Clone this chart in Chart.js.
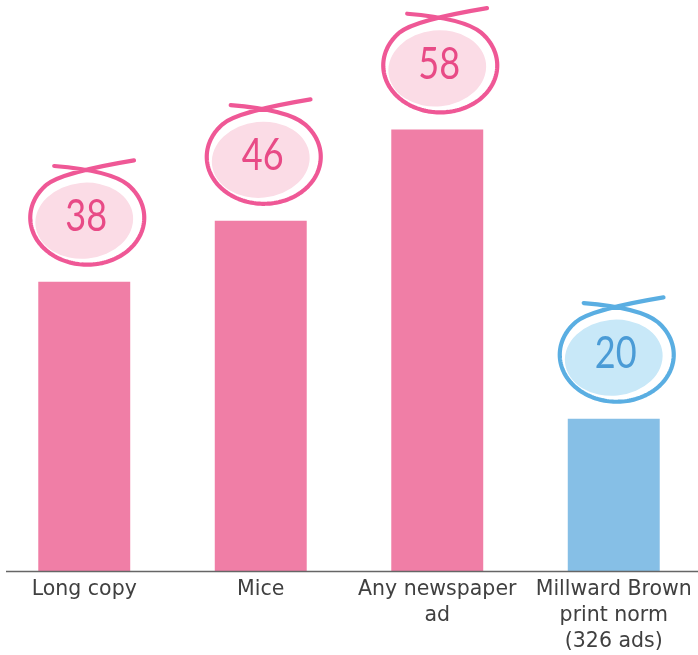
<!DOCTYPE html>
<html>
<head>
<meta charset="utf-8">
<script src="https://cdn.jsdelivr.net/npm/chart.js@4"></script>
<style>
  html, body { margin: 0; padding: 0; background: #fff; overflow: hidden; }
  #wrap { position: absolute; left: -4px; top: 0; width: 706px; height: 655px; }
</style>
</head>
<body>
<div id="wrap"><canvas id="chart"></canvas></div>
<script>
// --- Data ---
const categories = [
  ['Long copy'],
  ['Mice'],
  ['Any newspaper', 'ad'],
  ['Millward Brown', 'print norm', '(326 ads)']
];
const values = [38, 46, 58, 20];

// --- Colours ---
const barColors = ['#f07ea6', '#f07ea6', '#f07ea6', '#86bfe6'];
const ringColors = ['#ef5896', '#ef5896', '#ef5896', '#5aaee2'];
const ringFills = ['#fbdce6', '#fbdce6', '#fbdce6', '#c8e8f8'];
const numColors = ['#e84a86', '#e84a86', '#e84a86', '#4a9bd6'];

// --- Hand-drawn loop round each value: an ellipse whose two ends cross at the top ---
function drawLoop(ctx, cx, cy, rx, ry, stroke, fill) {
  ctx.save();
  ctx.fillStyle = fill;
  ctx.beginPath();
  ctx.ellipse(cx - 3, cy + 3, rx - 8, ry - 9, -0.1, 0, Math.PI * 2);
  ctx.fill();

  const pt = (a) => [cx + rx * Math.cos(a), cy + ry * Math.sin(a)];
  const tan = (a) => [-rx * Math.sin(a), ry * Math.cos(a)];
  const k = 0.3;

  ctx.strokeStyle = stroke;
  ctx.lineWidth = 4.2;
  ctx.lineCap = 'round';
  ctx.lineJoin = 'round';
  ctx.beginPath();

  // left tail sweeping into the right side
  const a0 = -Math.PI / 2 + 0.8;
  const sx = cx - 0.58 * rx, sy = cy - 1.1 * ry;
  const [p0x, p0y] = pt(a0);
  const [t0x, t0y] = tan(a0);
  ctx.moveTo(sx, sy);
  ctx.bezierCurveTo(sx + 0.6 * rx, sy + 0.06 * ry, p0x - k * t0x, p0y - k * t0y, p0x, p0y);

  // round the body
  const a1 = -Math.PI / 2 + Math.PI * 2 - 0.8;
  for (let a = a0; a <= a1; a += 0.04) {
    const [x, y] = pt(a);
    ctx.lineTo(x, y);
  }

  // right tail rising past the start
  const [p1x, p1y] = pt(a1);
  const [t1x, t1y] = tan(a1);
  const ex = cx + 0.82 * rx, ey = cy - 1.22 * ry;
  ctx.lineTo(p1x, p1y);
  ctx.bezierCurveTo(p1x + k * t1x, p1y + k * t1y, ex - 0.6 * rx, ey + 0.12 * ry, ex, ey);
  ctx.stroke();
  ctx.restore();
}

const valueLoops = {
  id: 'valueLoops',
  afterDatasetsDraw(chart) {
    const { ctx, chartArea } = chart;
    const meta = chart.getDatasetMeta(0);

    // baseline
    ctx.save();
    ctx.strokeStyle = '#666';
    ctx.lineWidth = 1.5;
    ctx.beginPath();
    ctx.moveTo(chartArea.left + 10, chartArea.bottom + 0.5);
    ctx.lineTo(chartArea.right, chartArea.bottom + 0.5);
    ctx.stroke();
    ctx.restore();

    meta.data.forEach((bar, i) => {
      const cx = bar.x + 3;
      const cy = bar.y - 64;
      drawLoop(ctx, cx, cy, 57, 47, ringColors[i], ringFills[i]);
      ctx.save();
      ctx.translate(cx - 1, cy - 1);
      ctx.scale(0.82, 1);
      ctx.fillStyle = numColors[i];
      ctx.font = '400 44px Lato, "DejaVu Sans", sans-serif';
      ctx.textAlign = 'center';
      ctx.textBaseline = 'middle';
      ctx.fillText(String(values[i]), 0, 0);
      ctx.restore();
    });
  }
};

new Chart(document.getElementById('chart'), {
  type: 'bar',
  data: {
    labels: categories,
    datasets: [{
      data: values,
      backgroundColor: barColors,
      borderWidth: 0,
      categoryPercentage: 1,
      barPercentage: 0.521
    }]
  },
  options: {
    responsive: true,
    maintainAspectRatio: false,
    animation: false,
    layout: { padding: 0 },
    plugins: {
      legend: { display: false },
      tooltip: { enabled: false }
    },
    scales: {
      x: {
        grid: { display: false },
        border: { display: false },
        ticks: {
          color: '#404040',
          padding: -2,
          maxRotation: 0,
          autoSkip: false,
          font: { family: '"DejaVu Sans", sans-serif', size: 20.5, lineHeight: 1.27 }
        },
        afterFit(scale) { scale.height = 84; }
      },
      y: {
        display: false,
        min: 0,
        max: 75
      }
    }
  },
  plugins: [valueLoops]
});
</script>
</body>
</html>
